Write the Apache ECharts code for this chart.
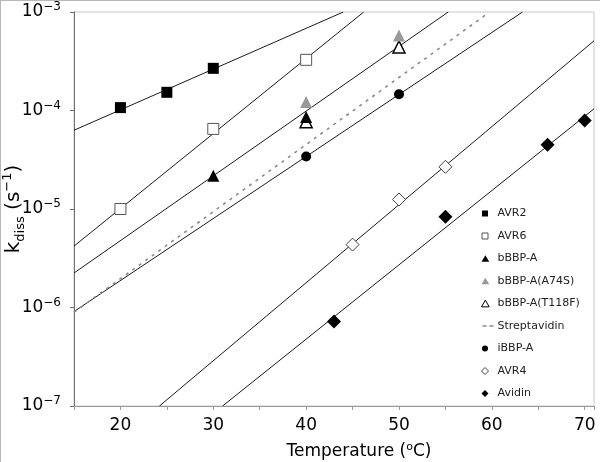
<!DOCTYPE html>
<html>
<head>
<meta charset="utf-8">
<script src="https://cdn.jsdelivr.net/npm/echarts@6/dist/echarts.min.js"></script>
<style>
html,body{margin:0;padding:0;background:#fff;}
#c{width:600px;height:462px;}
</style>
</head>
<body>
<div id="c"></div>
<script>
// ---- data ----
const xTicks = [20, 30, 40, 50, 60, 70];
const yTickExps = [-7, -6, -5, -4, -3];

const avr2T = [20, 25, 30];
const avr2K = [1.07e-4, 1.53e-4, 2.68e-4];
const avr6T = [20, 30, 40];
const avr6K = [1.0e-5, 6.5e-5, 3.27e-4];
const bbbpT = [30, 40];
const bbbpK = [2.17e-5, 8.6e-5];
const a74sT = [40, 50];
const a74sK = [1.22e-4, 5.77e-4];
const t118fT = [40, 50];
const t118fK = [7.7e-5, 4.42e-4];
const ibbpT = [40, 50];
const ibbpK = [3.41e-5, 1.46e-4];
const avr4T = [45, 50, 55];
const avr4K = [4.35e-6, 1.25e-5, 2.68e-5];
const avidinT = [43, 55, 66, 70];
const avidinK = [7.2e-7, 8.35e-6, 4.49e-5, 7.9e-5];

// fitted lines (end points)
const avr2FitT = [15, 44.0];     const avr2FitK = [6.3e-5, 1e-3];
const avr6FitT = [15, 46.2];     const avr6FitK = [4.2e-6, 1e-3];
const bbbpFitT = [15, 55.3];     const bbbpFitK = [2.24e-6, 1e-3];
const streptFitT = [15, 59.3];   const streptFitK = [8.95e-7, 9.3e-4];
const ibbpFitT = [15, 63.3];     const ibbpFitK = [9.1e-7, 1e-3];
const avr4FitT = [24.2, 71];     const avr4FitK = [1e-7, 5.1e-4];
const avidinFitT = [31.0, 71];   const avidinFitK = [1e-7, 1.04e-4];

const legendNames = ['AVR2', 'AVR6', 'bBBP-A', 'bBBP-A(A74S)', 'bBBP-A(T118F)', 'Streptavidin', 'iBBP-A', 'AVR4', 'Avidin'];

// small legend glyphs; the leading moves fix the icon box to 13x7 so the glyph keeps its shape
const BOX = 'M0,0M13,7';
const ICON_SQ = 'path://' + BOX + 'M0.5,0.5h6v6h-6z';
const ICON_TRI = 'path://' + BOX + 'M3.5,0L7.5,7L-0.5,7z';
const ICON_CIR = 'path://' + BOX + 'M0.5,3.5a3,3 0 1,0 6,0a3,3 0 1,0 -6,0z';
const ICON_DIA = 'path://' + BOX + 'M3.5,0L7,3.5L3.5,7L0,3.5z';
const ICON_DASH = 'path://' + BOX + 'M1,2.7h4v1.6h-4z M8,2.7h4v1.6h-4z';
const legendIcons = [ICON_SQ, ICON_SQ, ICON_TRI, ICON_TRI, ICON_TRI, ICON_DASH, ICON_CIR, ICON_DIA, ICON_DIA];

function zip(t, k) { return t.map((v, i) => [v, k[i]]); }

const FONT = 'DejaVu Sans';

function fitLine(name, t, k, extra) {
  return Object.assign({
    name: name, type: 'line', data: zip(t, k), symbol: 'none', silent: true,
    lineStyle: { color: '#1a1a1a', width: 1 }, z: 1, clip: true
  }, extra || {});
}
function pts(name, t, k, symbol, size, fill, border, bw) {
  return {
    name: name, type: 'scatter', data: zip(t, k), symbol: symbol, symbolSize: size,
    itemStyle: { color: fill, borderColor: border, borderWidth: bw, opacity: 1 }, z: 5
  };
}

const legendData = legendNames.map(function (n, i) {
  const d = { name: n, icon: legendIcons[i] };
  if (n === 'Streptavidin') d.itemStyle = { color: '#8a8a8a', borderWidth: 0 };
  if (n === 'AVR6' || n === 'AVR4' || n === 'bBBP-A(T118F)') d.itemStyle = { borderWidth: 1 };
  return d;
});

const chart = echarts.init(document.getElementById('c'), null, { renderer: 'canvas' });
chart.setOption({
  animation: false,
  backgroundColor: '#fff',
  textStyle: { fontFamily: FONT },
  grid: { left: 74, right: 6, top: 12, bottom: 56, show: true, borderColor: '#c8c8c8', borderWidth: 1, containLabel: false, outerBoundsMode: 'none' },
  graphic: [
    { type: 'line', shape: { x1: 0.5, y1: 0, x2: 0.5, y2: 462 }, style: { stroke: '#b8b8b8', lineWidth: 1 } },
    { type: 'line', shape: { x1: 0, y1: 0.5, x2: 600, y2: 0.5 }, style: { stroke: '#b8b8b8', lineWidth: 1 } }
  ],
  legend: {
    orient: 'vertical', left: 476, top: 203,
    data: legendData,
    itemWidth: 13, itemHeight: 7, itemGap: 11.5,
    textStyle: { fontFamily: FONT, fontSize: 11, color: '#222', padding: [0, 0, 0, -2] },
    selectedMode: false
  },
  xAxis: {
    type: 'value', min: 15, max: 71, interval: 5,
    axisLine: { show: true, lineStyle: { color: '#9a9a9a', width: 1 } },
    axisTick: { show: true, length: 4, inside: false, lineStyle: { color: '#9a9a9a' } },
    axisLabel: {
      fontFamily: FONT, fontSize: 17, color: '#000', margin: 11,
      formatter: function (v) { return xTicks.indexOf(v) >= 0 ? String(v) : ''; }
    },
    splitLine: { show: false },
    name: 'Temperature ({sup|o}C)', nameLocation: 'middle', nameGap: 36, nameMoveOverlap: false,
    nameTextStyle: {
      fontFamily: FONT, fontSize: 17, color: '#000', padding: [0, 0, 0, 50], lineHeight: 20,
      rich: { sup: { fontFamily: FONT, fontSize: 11, verticalAlign: 'top', lineHeight: 11, color: '#000' } }
    }
  },
  yAxis: {
    type: 'log', logBase: 10, min: 1e-7, max: 1e-3,
    axisLine: { show: true, lineStyle: { color: '#707070', width: 1 } },
    axisTick: { show: true, length: 4, lineStyle: { color: '#707070' } },
    minorTick: { show: false },
    splitLine: { show: false },
    axisLabel: {
      margin: 13, color: '#000',
      formatter: function (v) {
        const e = Math.round(Math.log10(v));
        if (yTickExps.indexOf(e) < 0) return '';
        return '{b|10}{s|\u2212' + Math.abs(e) + '}';
      },
      rich: {
        b: { fontFamily: FONT, fontSize: 17, lineHeight: 22, color: '#000' },
        s: { fontFamily: FONT, fontSize: 12, lineHeight: 12, verticalAlign: 'top', color: '#000' }
      }
    },
    name: '{k|k}{sub|diss}{k| (s}{sup|\u22121}{k|)}', nameLocation: 'middle', nameGap: 47, nameRotate: 90, nameMoveOverlap: false,
    nameTextStyle: {
      rich: {
        k: { fontFamily: FONT, fontSize: 20, lineHeight: 26, color: '#000' },
        sub: { fontFamily: FONT, fontSize: 13, lineHeight: 13, verticalAlign: 'bottom', color: '#000' },
        sup: { fontFamily: FONT, fontSize: 13, lineHeight: 13, verticalAlign: 'top', color: '#000' }
      }
    }
  },
  series: [
    fitLine('AVR2 fit', avr2FitT, avr2FitK),
    fitLine('AVR6 fit', avr6FitT, avr6FitK),
    fitLine('bBBP-A fit', bbbpFitT, bbbpFitK),
    fitLine('iBBP-A fit', ibbpFitT, ibbpFitK),
    fitLine('AVR4 fit', avr4FitT, avr4FitK),
    fitLine('Avidin fit', avidinFitT, avidinFitK),
    pts('AVR2', avr2T, avr2K, 'rect', 11, '#000', '#000', 0),
    pts('AVR6', avr6T, avr6K, 'rect', 11, '#fff', '#555', 1),
    pts('bBBP-A(T118F)', t118fT, t118fK, 'triangle', 12, '#fff', '#000', 1.5),
    pts('bBBP-A', bbbpT, bbbpK, 'triangle', 12, '#000', '#000', 0),
    pts('bBBP-A(A74S)', a74sT, a74sK, 'triangle', 12, '#999', '#999', 0),
    {
      name: 'Streptavidin', type: 'line', data: zip(streptFitT, streptFitK), symbol: 'none',
      lineStyle: { color: '#8a8a8a', width: 1.6, type: [3, 5] }, itemStyle: { color: '#8a8a8a' }, z: 2
    },
    pts('iBBP-A', ibbpT, ibbpK, 'circle', 10, '#000', '#000', 0),
    pts('AVR4', avr4T, avr4K, 'diamond', 13, '#fff', '#444', 1),
    pts('Avidin', avidinT, avidinK, 'diamond', 14, '#000', '#000', 0)
  ]
});
</script>
</body>
</html>
